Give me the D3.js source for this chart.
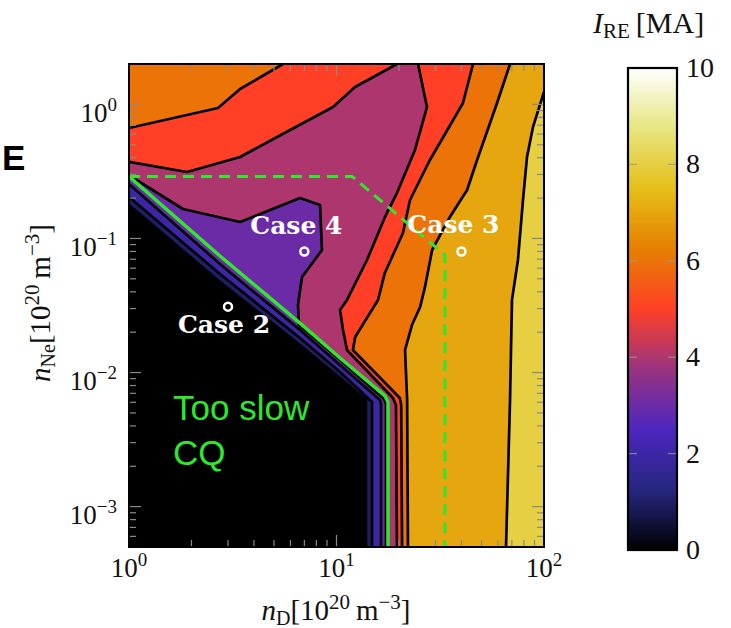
<!DOCTYPE html>
<html>
<head>
<meta charset="utf-8">
<script src="https://cdn.jsdelivr.net/npm/d3@7"></script>
<style>
  html, body { margin: 0; padding: 0; background: #ffffff; }
  svg { display: block; }
</style>
</head>
<body>
<svg id="chart" width="731" height="628"></svg>
<script>
// ---- data: iso-lines of the runaway current I_RE [MA] in the (n_D, n_Ne) plane ----
// each line is a list of [n_D, n_Ne] vertices, both in 10^20 m^-3
const level05 = [[1, 0.1777], [2.745, 0.0473], [6.67, 0.01605], [10.4, 0.0091], [13.87, 0.00624], [13.87, 0.0005]];
const level15 = [[1, 0.204], [2.745, 0.0543], [6.67, 0.0181], [10.4, 0.0101], [14.83, 0.00603], [14.83, 0.0005]];
const level25 = [[1, 0.255], [2.745, 0.0645], [6.67, 0.0208], [10.4, 0.01138], [16.2, 0.00624], [16.4, 0.00583], [16.4, 0.0005]];
const level35 = [[1, 0.297], [1.82, 0.1658], [3.43, 0.1327], [6.67, 0.2], [8.33, 0.1777], [8.51, 0.082], [6.82, 0.0516],
                 [6.52, 0.0319], [6.6, 0.0226], [10.4, 0.0124], [16.94, 0.00635], [17.32, 0.00583], [17.32, 0.0005]];
const level45a = [[1, 0.372], [1.904, 0.313], [3.43, 0.405], [5.17, 0.571], [9.62, 0.956], [12.28, 1.348], [19.56, 2]];
const level45b = [[24.71, 2], [27.3, 0.956], [23.89, 0.457], [19.56, 0.218], [17.13, 0.1446], [14.03, 0.0691], [11.24, 0.0348],
                  [10.4, 0.0293], [10.75, 0.0208], [11.24, 0.01474], [18.72, 0.00646], [19.35, 0.00573], [19.56, 0.0005]];
const level55a = [[1, 0.666], [2.685, 0.939], [3.43, 1.302], [5.52, 2]];
const level55b = [[45.5, 2], [40.7, 1.024], [28.2, 0.385], [22.6, 0.1935], [20.9, 0.1098], [17.1, 0.0553], [15.85, 0.0348],
                  [12.3, 0.0184], [12.0, 0.01474], [20.2, 0.00646], [20.5, 0.00573], [20.7, 0.0005]];
const level65 = [[68.6, 2], [59.4, 1.024], [47.6, 0.385], [42.6, 0.23], [35.2, 0.1446], [28.9, 0.082], [26.7, 0.0435],
                 [25.3, 0.0308], [23.1, 0.0226], [21.4, 0.01474], [21.9, 0.00624], [22.1, 0.0005]];
const level75 = [[100, 1.236], [88.5, 0.678], [82.8, 0.405], [79.2, 0.1935], [74.9, 0.0691], [70.1, 0.0348], [68.6, 0.00624], [65.6, 0.0005]];

// boundary of the too-slow current quench region, and the dashed operating boundary
const slowCQ = [[1, 0.29], [2.745, 0.074], [6.67, 0.0234], [10.4, 0.01284], [17.13, 0.00669], [17.71, 0.00603], [17.71, 0.0005]];
const dashedBoundary = [[1, 0.29], [11.9, 0.29], [33.3, 0.0753], [33.3, 0.0005]];

// simulated cases
const caseNames = ["Case 2", "Case 4", "Case 3"];
const caseND = [3, 7, 40];
const caseNNe = [0.031, 0.08, 0.08];

// axis extents and ticks
const nDDomain = [1, 100];
const nNeDomain = [5e-4, 2];
const xMajor = [1, 10, 100];
const xMajorExp = ["0", "1", "2"];
const yMajor = [1, 0.1, 0.01, 0.001];
const yMajorExp = ["0", "\u22121", "\u22122", "\u22123"];
const cbarTicks = [0, 2, 4, 6, 8, 10];

// ---- layout ----
const M = { left: 129, right: 544, top: 64, bottom: 547 };
const CB = { left: 628, right: 677, top: 68, bottom: 550 };
const SERIF = "'Liberation Serif', 'Times New Roman', serif";
const SANS = "'Liberation Sans', Arial, sans-serif";
const GREEN = "#2ee82e";

const svg = d3.select("#chart");
const x = d3.scaleLog().domain(nDDomain).range([M.left, M.right]);
const y = d3.scaleLog().domain(nNeDomain).range([M.bottom, M.top]);

// CMRmap-style colour ramp on 0..10 MA
const cmrStops = [[0, 0, 0], [0.15, 0.15, 0.5], [0.3, 0.15, 0.75], [0.6, 0.2, 0.5], [1.0, 0.25, 0.15],
                  [0.9, 0.5, 0.0], [0.9, 0.75, 0.1], [0.9, 0.9, 0.5], [1, 1, 1]];
const color = d3.scaleLinear()
  .domain(cmrStops.map((_, i) => i * 10 / (cmrStops.length - 1)))
  .range(cmrStops.map(c => d3.rgb(c[0] * 255, c[1] * 255, c[2] * 255)))
  .interpolate(d3.interpolateRgb)
  .clamp(true);

const BL = [nDDomain[0], nNeDomain[0]];
const TL = [nDDomain[0], nNeDomain[1]];
const TR = [nDDomain[1], nNeDomain[1]];

const line = d3.line().x(d => x(d[0])).y(d => y(d[1]));

svg.append("defs").append("clipPath").attr("id", "plotClip")
  .append("rect").attr("x", M.left).attr("y", M.top)
  .attr("width", M.right - M.left).attr("height", M.bottom - M.top);

const gPlot = svg.append("g").attr("clip-path", "url(#plotClip)");

// filled bands: each polygon is the region below a level, painted from high to low
gPlot.append("rect").attr("x", M.left).attr("y", M.top)
  .attr("width", M.right - M.left).attr("height", M.bottom - M.top)
  .attr("fill", color(8));

const bands = [
  { value: 7, pts: [...level75, BL, TL, TR] },
  { value: 6, pts: [...level65, BL, TL] },
  { value: 5, pts: [...level55b, BL, ...level55a] },
  { value: 4, pts: [...level45b, BL, ...level45a] },
  { value: 3, pts: [...level35, BL] },
  { value: 2, pts: [...level25, BL] },
  { value: 1, pts: [...level15, BL] },
  { value: 0, pts: [...level05, BL] }
];
gPlot.selectAll("path.band").data(bands).join("path")
  .attr("class", "band")
  .attr("d", d => line(d.pts) + "Z")
  .attr("fill", d => color(d.value))
  .attr("stroke", "none");

// contour lines
const isoLines = [level05, level15, level25, level35, level45a, level45b, level55a, level55b, level65, level75];
gPlot.selectAll("path.iso").data(isoLines).join("path")
  .attr("class", "iso")
  .attr("d", line)
  .attr("fill", "none")
  .attr("stroke", "#000")
  .attr("stroke-width", 2.7)
  .attr("stroke-linejoin", "round");

// green boundaries
gPlot.append("path").attr("d", line(slowCQ))
  .attr("fill", "none").attr("stroke", GREEN).attr("stroke-width", 3.5).attr("stroke-linejoin", "round");
gPlot.append("path").attr("d", line(dashedBoundary))
  .attr("fill", "none").attr("stroke", GREEN).attr("stroke-width", 3)
  .attr("stroke-dasharray", "11,7");

// ticks (inside, log minor + major) on all four sides
const tickCol = "#8a8a8a";
const gTicks = svg.append("g").attr("stroke", tickCol).attr("stroke-width", 1.2);
const xTicks = x.ticks();
const yTicks = y.ticks();
const isMajor = v => Math.abs(Math.log10(v) - Math.round(Math.log10(v))) < 1e-9;
xTicks.forEach(v => {
  const len = isMajor(v) ? 12 : 7;
  const px = x(v);
  gTicks.append("line").attr("x1", px).attr("x2", px).attr("y1", M.bottom).attr("y2", M.bottom - len);
  gTicks.append("line").attr("x1", px).attr("x2", px).attr("y1", M.top).attr("y2", M.top + len);
});
yTicks.forEach(v => {
  const len = isMajor(v) ? 12 : 7;
  const py = y(v);
  gTicks.append("line").attr("y1", py).attr("y2", py).attr("x1", M.left).attr("x2", M.left + len);
  gTicks.append("line").attr("y1", py).attr("y2", py).attr("x1", M.right).attr("x2", M.right - len);
});

// frame
svg.append("rect").attr("x", M.left).attr("y", M.top)
  .attr("width", M.right - M.left).attr("height", M.bottom - M.top)
  .attr("fill", "none").attr("stroke", "#000").attr("stroke-width", 2);

// case markers and labels
const labelShift = { "Case 2": [-4, 26], "Case 4": [-8, -17], "Case 3": [-8, -18] };
caseNames.forEach((name, i) => {
  const cx = x(caseND[i]), cy = y(caseNNe[i]);
  svg.append("circle").attr("cx", cx).attr("cy", cy).attr("r", 4)
    .attr("fill", "none").attr("stroke", "#fff").attr("stroke-width", 2.5);
  svg.append("text").attr("x", cx + labelShift[name][0]).attr("y", cy + labelShift[name][1])
    .attr("text-anchor", "middle").attr("font-family", "'DejaVu Serif', serif").attr("font-weight", "bold")
    .attr("font-size", 25).attr("fill", "#fff").text(name);
});

// region annotation
const tslow = svg.append("text").attr("font-family", SANS).attr("font-size", 35).attr("fill", GREEN);
tslow.append("tspan").attr("x", 173).attr("y", 420).text("Too slow");
tslow.append("tspan").attr("x", 173).attr("y", 465).text("CQ");

// panel letter
svg.append("text").attr("x", 2).attr("y", 170).attr("font-family", SANS).attr("font-weight", "bold")
  .attr("font-size", 35).attr("fill", "#000").text("E");

// tick labels with powers of ten
function powerLabel(g, px, py, exp, anchor) {
  const t = g.append("text").attr("x", px).attr("y", py).attr("text-anchor", anchor)
    .attr("font-family", SERIF).attr("font-size", 27).attr("fill", "#111");
  t.append("tspan").text("10");
  t.append("tspan").attr("dy", -11).attr("font-size", 19).text(exp);
}
const gLab = svg.append("g");
xMajor.forEach((v, i) => powerLabel(gLab, x(v), 577, xMajorExp[i], "middle"));
yMajor.forEach((v, i) => powerLabel(gLab, 117, y(v) + 17.5, yMajorExp[i], "end"));

// axis titles
function unitTitle(t, sub) {
  t.append("tspan").attr("font-style", "italic").text("n");
  t.append("tspan").attr("font-size", 20).attr("dy", 5).text(sub);
  t.append("tspan").attr("dy", -5).text("[10");
  t.append("tspan").attr("font-size", 21).attr("dy", -11).text("20");
  t.append("tspan").attr("dy", 11).text("\u2009m");
  t.append("tspan").attr("font-size", 21).attr("dy", -11).text("\u22123");
  t.append("tspan").attr("dy", 11).text("]");
}
unitTitle(svg.append("text").attr("x", 336).attr("y", 620).attr("text-anchor", "middle")
  .attr("font-family", SERIF).attr("font-size", 29).attr("fill", "#111"), "D");
unitTitle(svg.append("text").attr("transform", "translate(50,303) rotate(-90)").attr("text-anchor", "middle")
  .attr("font-family", SERIF).attr("font-size", 29).attr("fill", "#111"), "Ne");

// colour bar
const cy = d3.scaleLinear().domain([0, 10]).range([CB.bottom, CB.top]);
const grad = svg.select("defs").append("linearGradient").attr("id", "cbarGrad")
  .attr("x1", 0).attr("y1", 1).attr("x2", 0).attr("y2", 0);
d3.range(0, 10.001, 0.25).forEach(v => {
  grad.append("stop").attr("offset", v / 10).attr("stop-color", color(v));
});
svg.append("rect").attr("x", CB.left).attr("y", CB.top)
  .attr("width", CB.right - CB.left).attr("height", CB.bottom - CB.top)
  .attr("fill", "url(#cbarGrad)");
const gCbT = svg.append("g").attr("stroke", "#9a9a9a").attr("stroke-width", 1.2).attr("opacity", 0.8);
cbarTicks.filter(v => v > 0 && v < 10).forEach(v => {
  gCbT.append("line").attr("x1", CB.left).attr("x2", CB.left + 9).attr("y1", cy(v)).attr("y2", cy(v));
  gCbT.append("line").attr("x1", CB.right).attr("x2", CB.right - 9).attr("y1", cy(v)).attr("y2", cy(v));
});
svg.append("rect").attr("x", CB.left).attr("y", CB.top)
  .attr("width", CB.right - CB.left).attr("height", CB.bottom - CB.top)
  .attr("fill", "none").attr("stroke", "#000").attr("stroke-width", 2.2);
cbarTicks.forEach(v => {
  svg.append("text").attr("x", 686).attr("y", cy(v) + 9).attr("font-family", SERIF)
    .attr("font-size", 28).attr("fill", "#111").text(v);
});
const ct = svg.append("text").attr("x", 593).attr("y", 33).attr("font-family", SERIF)
  .attr("font-size", 30).attr("fill", "#111");
ct.append("tspan").attr("font-style", "italic").text("I");
ct.append("tspan").attr("font-size", 21).attr("dy", 5).text("RE");
ct.append("tspan").attr("dy", -5).text("\u2009[MA]");
</script>
</body>
</html>
